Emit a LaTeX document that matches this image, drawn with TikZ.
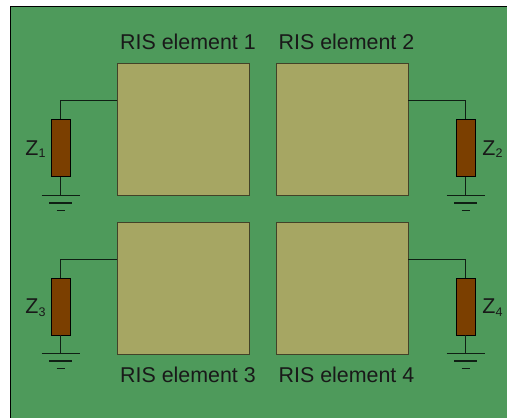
\documentclass[tikz,border=0pt]{standalone}
\usepackage{fontspec}
\setmainfont{Liberation Sans}
\definecolor{board}{HTML}{4E9A5B}
\definecolor{patchc}{HTML}{A6A663}
\definecolor{resc}{HTML}{7B3F00}
\definecolor{wirec}{HTML}{0F1F14}
\newcommand{\subn}[1]{\raisebox{-2.5pt}{\fontsize{12.5}{13}\selectfont #1}}
\tikzset{
  x=1pt,y=-1pt,
  patch/.style={draw=black!60!patchc,fill=patchc,line width=1pt,minimum width=132pt,minimum height=132pt,inner sep=0pt,anchor=north west},
  imped/.style={draw=black,fill=resc,line width=0.9pt,minimum width=19pt,minimum height=57pt,inner sep=0pt},
  wire/.style={draw=wirec,line width=1.1pt},
  lbl/.style={inner sep=0pt,font=\fontsize{21.4}{24}\selectfont,text=black!90},
}
\newcommand{\groundat}[1]{%
  \draw[wire] (#1) ++(-19,0) -- ++(38,0);
  \draw[wire] (#1) ++(-11.5,7.5) -- ++(23,0);
  \draw[wire] (#1) ++(-4,15) -- ++(8,0);
}
\begin{document}
\begin{tikzpicture}
\useasboundingbox (0,0) rectangle (507,418);
\fill[white] (0,0) rectangle (507,418);
\draw[fill=board,draw=black,line width=0.9pt] (10.5,6.5) rectangle (520,430);
\clip (0,0) rectangle (507,418);
\node[patch] (p1) at (117,63) {};
\node[patch] (p2) at (276,63) {};
\node[patch] (p3) at (117,222) {};
\node[patch] (p4) at (276,222) {};
\node[lbl] (l1) at (188,41.5) {RIS element 1};
\node[lbl] (l2) at (346.5,41.5) {RIS element 2};
\node[lbl] (l3) at (188,375) {RIS element 3};
\node[lbl] (l4) at (346.5,375) {RIS element 4};
\node[imped] (z1) at (60.5,148) {};
\node[imped] (z2) at (465.5,148) {};
\node[imped] (z3) at (60.5,306.5) {};
\node[imped] (z4) at (465.5,306.5) {};
\node[lbl] (t1) at (35.5,149) {Z\subn{1}};
\node[lbl] (t2) at (492.5,149) {Z\subn{2}};
\node[lbl] (t3) at (35.5,307.5) {Z\subn{3}};
\node[lbl] (t4) at (492.5,307.5) {Z\subn{4}};
\coordinate (g1) at (60.5,195.5);
\coordinate (g2) at (465.5,195.5);
\coordinate (g3) at (60.5,353.5);
\coordinate (g4) at (465.5,353.5);
\coordinate (w1) at (117,100.5);
\coordinate (w2) at (408,100.5);
\coordinate (w3) at (117,259.5);
\coordinate (w4) at (408,259.5);
\draw[wire] (w1) -| (z1.north);
\draw[wire] (w2) -| (z2.north);
\draw[wire] (w3) -| (z3.north);
\draw[wire] (w4) -| (z4.north);
\draw[wire] (z1.south) -- (g1);
\draw[wire] (z2.south) -- (g2);
\draw[wire] (z3.south) -- (g3);
\draw[wire] (z4.south) -- (g4);
\groundat{g1}\groundat{g2}\groundat{g3}\groundat{g4}
\end{tikzpicture}
\end{document}
